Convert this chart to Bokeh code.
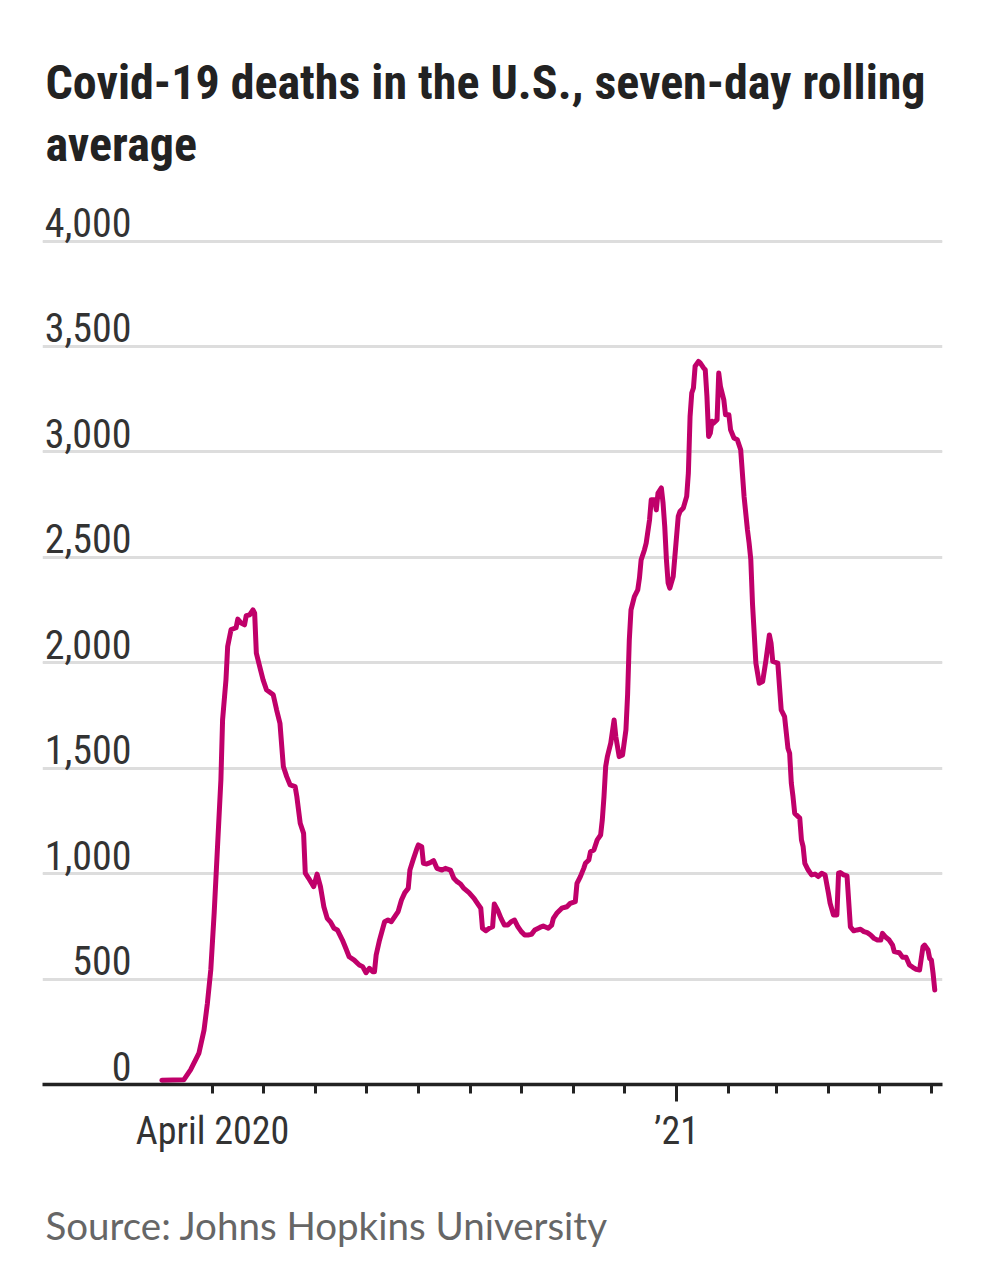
import pandas as pd
from bokeh.plotting import figure
from bokeh.models import (ColumnDataSource, Label, LabelSet, Grid, FixedTicker,
                          Range1d, Title, DatetimeAxis)
from bokeh.core.properties import value
from bokeh.embed import file_html
from bokeh.resources import INLINE

# ---------------- data ----------------
title_lines = ["Covid-19 deaths in the U.S., seven-day rolling", "average"]
source_text = "Source: Johns Hopkins University"

dates = [
    "2020-03-02", "2020-03-15", "2020-03-19", "2020-03-24", "2020-03-27", "2020-03-29", "2020-03-31",
    "2020-04-02", "2020-04-04", "2020-04-06", "2020-04-07", "2020-04-09", "2020-04-10", "2020-04-12",
    "2020-04-15", "2020-04-16", "2020-04-18", "2020-04-20", "2020-04-21", "2020-04-23", "2020-04-25",
    "2020-04-26", "2020-04-27", "2020-04-29", "2020-05-01", "2020-05-03", "2020-05-07", "2020-05-09",
    "2020-05-11", "2020-05-13", "2020-05-15", "2020-05-17", "2020-05-20", "2020-05-21", "2020-05-23",
    "2020-05-25", "2020-05-26", "2020-05-28", "2020-05-31", "2020-06-02", "2020-06-04", "2020-06-06",
    "2020-06-08", "2020-06-10", "2020-06-12", "2020-06-14", "2020-06-17", "2020-06-19", "2020-06-21",
    "2020-06-24", "2020-06-27", "2020-06-29", "2020-07-01", "2020-07-03", "2020-07-05", "2020-07-06",
    "2020-07-07", "2020-07-09", "2020-07-12", "2020-07-14", "2020-07-16", "2020-07-18", "2020-07-20",
    "2020-07-22", "2020-07-24", "2020-07-26", "2020-07-27", "2020-07-29", "2020-07-31", "2020-08-01",
    "2020-08-03", "2020-08-04", "2020-08-06", "2020-08-08", "2020-08-10", "2020-08-12", "2020-08-15",
    "2020-08-17", "2020-08-20", "2020-08-22", "2020-08-24", "2020-08-26", "2020-08-28", "2020-08-31",
    "2020-09-03", "2020-09-05", "2020-09-07", "2020-09-08", "2020-09-10", "2020-09-12", "2020-09-14",
    "2020-09-15", "2020-09-17", "2020-09-19", "2020-09-21", "2020-09-23", "2020-09-25", "2020-09-27",
    "2020-09-29", "2020-10-01", "2020-10-03", "2020-10-05", "2020-10-07", "2020-10-09", "2020-10-12",
    "2020-10-14", "2020-10-17", "2020-10-19", "2020-10-20", "2020-10-22", "2020-10-25", "2020-10-28",
    "2020-10-30", "2020-11-02", "2020-11-03", "2020-11-05", "2020-11-07", "2020-11-08", "2020-11-10",
    "2020-11-11", "2020-11-13", "2020-11-15", "2020-11-17", "2020-11-18", "2020-11-19", "2020-11-20",
    "2020-11-21", "2020-11-23", "2020-11-25", "2020-11-26", "2020-11-28", "2020-11-30", "2020-12-02",
    "2020-12-03", "2020-12-04", "2020-12-05", "2020-12-07", "2020-12-09", "2020-12-10", "2020-12-11",
    "2020-12-13", "2020-12-14", "2020-12-16", "2020-12-17", "2020-12-19", "2020-12-20", "2020-12-21",
    "2020-12-23", "2020-12-24", "2020-12-25", "2020-12-26", "2020-12-27", "2020-12-28", "2020-12-30",
    "2020-12-31", "2021-01-02", "2021-01-03", "2021-01-05", "2021-01-07", "2021-01-08", "2021-01-09",
    "2021-01-10", "2021-01-11", "2021-01-12", "2021-01-14", "2021-01-15", "2021-01-17", "2021-01-18",
    "2021-01-19", "2021-01-20", "2021-01-21", "2021-01-22", "2021-01-23", "2021-01-25", "2021-01-26",
    "2021-01-27", "2021-01-29", "2021-01-30", "2021-02-01", "2021-02-02", "2021-02-04", "2021-02-06",
    "2021-02-08", "2021-02-09", "2021-02-10", "2021-02-12", "2021-02-13", "2021-02-14", "2021-02-15",
    "2021-02-16", "2021-02-17", "2021-02-19", "2021-02-21", "2021-02-23", "2021-02-25", "2021-02-26",
    "2021-02-27", "2021-03-02", "2021-03-03", "2021-03-04", "2021-03-06", "2021-03-08", "2021-03-09",
    "2021-03-10", "2021-03-11", "2021-03-12", "2021-03-15", "2021-03-16", "2021-03-17", "2021-03-18",
    "2021-03-20", "2021-03-22", "2021-03-24", "2021-03-26", "2021-03-28", "2021-03-30", "2021-04-01",
    "2021-04-02", "2021-04-04", "2021-04-06", "2021-04-07", "2021-04-08", "2021-04-10", "2021-04-12",
    "2021-04-14", "2021-04-16", "2021-04-18", "2021-04-20", "2021-04-22", "2021-04-24", "2021-04-26",
    "2021-04-28", "2021-04-30", "2021-05-02", "2021-05-03", "2021-05-05", "2021-05-07", "2021-05-09",
    "2021-05-10", "2021-05-13", "2021-05-15", "2021-05-17", "2021-05-19", "2021-05-21", "2021-05-23",
    "2021-05-25", "2021-05-27", "2021-05-28", "2021-05-30", "2021-05-31", "2021-06-01", "2021-06-02",
    "2021-06-03",
]

deaths = [
    20, 22, 69, 149, 258, 385, 543,
    812, 1128, 1445, 1730, 1919, 2077, 2157,
    2166, 2207, 2188, 2180, 2223, 2227, 2251,
    2235, 2046, 1982, 1919, 1872, 1848, 1777,
    1713, 1508, 1460, 1421, 1413, 1365, 1239,
    1191, 1002, 978, 938, 998, 938, 843,
    788, 770, 741, 733, 685, 646, 606,
    590, 567, 559, 530, 551, 535, 535,
    614, 685, 772, 780, 772, 796, 820,
    875, 910, 930, 1017, 1068, 1116, 1136,
    1128, 1049, 1046, 1052, 1062, 1025, 1017,
    1025, 1017, 978, 962, 951, 930, 910,
    883, 859, 836, 741, 729, 741, 748,
    856, 827, 788, 756, 756, 772, 780,
    748, 725, 709, 709, 712, 733, 745,
    752, 741, 756, 788, 812, 836, 843,
    859, 867, 954, 986, 1025, 1049, 1065,
    1104, 1112, 1160, 1183, 1255, 1365, 1508,
    1555, 1619, 1729, 1650, 1555, 1563, 1682,
    1850, 2109, 2251, 2314, 2346, 2401, 2488,
    2536, 2567, 2678, 2773, 2773, 2725, 2805,
    2829, 2757, 2646, 2488, 2378, 2354, 2409,
    2504, 2694, 2717, 2734, 2789, 2900, 3168,
    3279, 3303, 3406, 3429, 3422, 3398, 3390,
    3263, 3073, 3089, 3145, 3137, 3153, 3374,
    3311, 3247, 3176, 3176, 3105, 3066, 3058,
    3010, 2900, 2789, 2631, 2567, 2488, 2280,
    2141, 1998, 1903, 1911, 2014, 2132, 2093,
    2006, 1998, 1887, 1777, 1745, 1595, 1571,
    1429, 1365, 1286, 1263, 1160, 1128, 1049,
    1017, 994, 998, 986, 1002, 994, 907,
    859, 804, 804, 1002, 1005, 994, 989,
    748, 729, 733, 736, 725, 720, 709,
    693, 685, 685, 717, 698, 685, 661,
    630, 625, 603, 603, 567, 556, 546,
    543, 653, 661, 638, 598, 590, 527,
    448,
]

y_ticks = [0, 500, 1000, 1500, 2000, 2500, 3000, 3500, 4000]
y_tick_labels = ["0", "500", "1,000", "1,500", "2,000", "2,500", "3,000", "3,500", "4,000"]

month_ticks = ["2020-04-01", "2020-05-01", "2020-06-01", "2020-07-01", "2020-08-01",
               "2020-09-01", "2020-10-01", "2020-11-01", "2020-12-01", "2021-01-01",
               "2021-02-01", "2021-03-01", "2021-04-01", "2021-05-01", "2021-06-01"]
x_labels = {"2020-04-01": "April 2020", "2021-01-01": "\u201921"}
year_tick = "2021-01-01"

x_start, x_end = "2019-12-22 07:00", "2021-06-07 14:00"
y_start, y_end = 0, 4951   # headroom above 4,000 holds the headline

# ---------------- styling ----------------
LINE_COLOR = "#C0006A"
TEXT_DARK = "#222222"
TICK_TEXT = "#333333"
GRID_COLOR = "#dddddd"
TITLE_FONT = "'Roboto Condensed', Roboto"
TICK_FONT = "'Roboto Condensed', Roboto"
SOURCE_FONT = "Lato"


def ms(d):
    return pd.Timestamp(d).value / 1e6


src = ColumnDataSource(data=dict(date=pd.to_datetime(dates), deaths=deaths))

p = figure(width=980, height=1280, output_backend="svg", toolbar_location=None,
           x_axis_type="datetime", y_axis_location=None, title=None,
           x_range=Range1d(pd.Timestamp(x_start), pd.Timestamp(x_end)),
           y_range=Range1d(y_start, y_end),
           min_border_left=42, min_border_right=38, min_border_top=40, min_border_bottom=196)
p.outline_line_color = None
p.background_fill_color = "white"
p.border_fill_color = "white"
p.xgrid.visible = False

# horizontal grid
p.add_layout(Grid(dimension=1, ticker=FixedTicker(ticks=y_ticks[1:]),
                  grid_line_color=GRID_COLOR, grid_line_width=3))

# line
p.line(x="date", y="deaths", source=src, line_color=LINE_COLOR, line_width=5,
       line_join="round", line_cap="round")

# x axis 1: axis line and monthly ticks (longer tick at the new year)
ax = p.xaxis[0]
ax.ticker = FixedTicker(ticks=[ms(year_tick)],
                        minor_ticks=[ms(d) for d in month_ticks if d != year_tick])
ax.major_label_overrides = {ms(year_tick): ""}
ax.major_label_text_font_size = "0px"
ax.major_label_standoff = 0
ax.axis_line_color = TEXT_DARK
ax.axis_line_width = 3.5
ax.major_tick_line_color = TEXT_DARK
ax.minor_tick_line_color = TEXT_DARK
ax.major_tick_line_width = 3
ax.minor_tick_line_width = 3
ax.major_tick_in = 0
ax.minor_tick_in = 0
ax.major_tick_out = 17
ax.minor_tick_out = 9

# x axis 2: the two date labels
ax2 = DatetimeAxis(ticker=FixedTicker(ticks=[ms(d) for d in x_labels], minor_ticks=[]),
                   major_label_overrides={ms(d): t for d, t in x_labels.items()},
                   axis_line_color=None, major_tick_line_color=None, minor_tick_line_color=None,
                   major_tick_in=0, major_tick_out=0, minor_tick_in=0, minor_tick_out=0,
                   major_label_standoff=7, major_label_text_font=TICK_FONT,
                   major_label_text_font_size="38px", major_label_text_color=TICK_TEXT)
p.add_layout(ax2, "below")

# blank spacer panel between the date labels and the source line
spacer = DatetimeAxis(ticker=FixedTicker(ticks=[ms(year_tick)], minor_ticks=[]),
                      major_label_overrides={ms(year_tick): ""},
                      axis_line_color=None, major_tick_line_color="#ffffff",
                      major_tick_line_width=1, minor_tick_line_color=None,
                      major_tick_in=0, major_tick_out=42, minor_tick_in=0, minor_tick_out=0,
                      major_label_standoff=0, major_label_text_font_size="0px")
p.add_layout(spacer, "below")

# source line
p.add_layout(Title(text=source_text, align="left", offset=3, standoff=4,
                   text_font=SOURCE_FONT, text_font_size="38.5px", text_font_style="normal",
                   text_color="#666666"), "below")

# y tick labels (inside the plot, above their gridlines)
ysrc = ColumnDataSource(data=dict(y=y_ticks, text=y_tick_labels))
p.add_layout(LabelSet(x=89, y="y", text="text", source=ysrc, x_units="screen",
                      text_align="right", text_baseline="alphabetic", y_offset=4,
                      text_font=value(TICK_FONT), text_font_size="40px",
                      text_color=TICK_TEXT))

# headline
p.add_layout(Label(x=3, y=1002, x_units="screen", y_units="screen", text=title_lines[0],
                   text_font=TITLE_FONT, text_font_style="bold",
                   text_font_size="48px", text_color=TEXT_DARK, text_baseline="alphabetic"))
p.add_layout(Label(x=3, y=940, x_units="screen", y_units="screen", text=title_lines[1],
                   text_font=TITLE_FONT, text_font_style="bold",
                   text_font_size="48px", text_color=TEXT_DARK, text_baseline="alphabetic"))

open("out.html", "w").write(file_html(p, INLINE))
